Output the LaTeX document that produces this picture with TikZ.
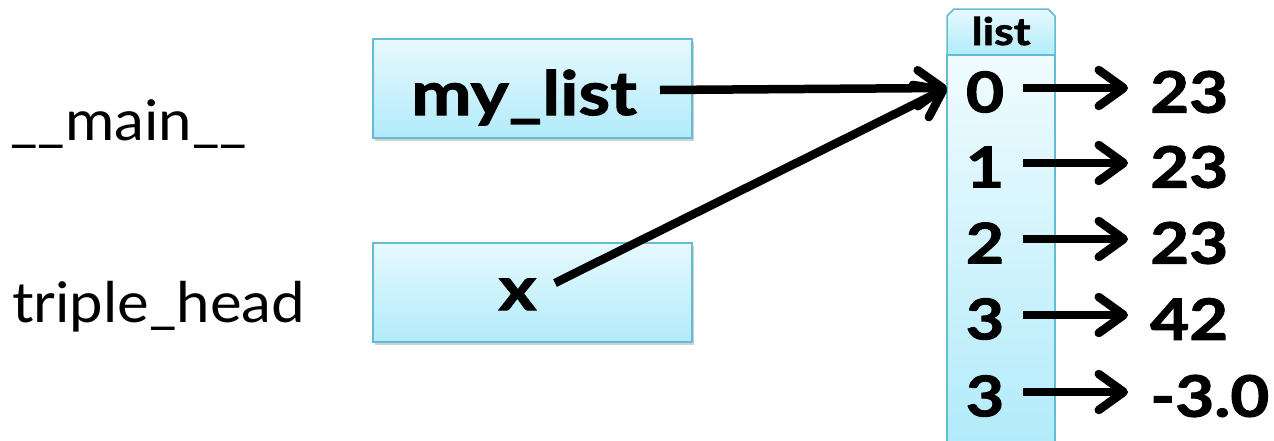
\documentclass[tikz,border=0pt]{standalone}
\usepackage{fontspec}
\setmainfont{Lato}[FakeStretch=1.07, BoldFeatures={FakeBold=1.8,FakeStretch=1.18}]
\usetikzlibrary{arrows.meta,shadows}
\definecolor{boxtop}{HTML}{E6F9FE}
\definecolor{boxbot}{HTML}{B2EBFA}
\definecolor{boxline}{HTML}{62BCD3}
\begin{document}
\begin{tikzpicture}[x=1pt,y=-1pt,
  box/.style={draw=boxline, line width=1.5pt, top color=boxtop, bottom color=boxbot,
    minimum width=319pt, minimum height=99pt, inner sep=0pt,
    drop shadow={opacity=0.3, shadow xshift=2pt, shadow yshift=-3pt, fill=black!60}},
  plain/.style={font=\fontsize{56}{60}\selectfont, inner sep=0pt},
  boldtxt/.style={font=\fontsize{61}{64}\selectfont\bfseries, inner sep=0pt},
  idx/.style={font=\fontsize{56}{60}\selectfont\bfseries, inner sep=0pt, minimum width=76pt},
  val/.style={font=\fontsize{57}{60}\selectfont\bfseries, inner sep=0pt, anchor=west},
  arr/.style={line width=8.5pt, -{Straight Barb[length=25pt,width=36pt,round]}},
]
\useasboundingbox (0,0) rectangle (1274,440);
% frame labels
\node[plain, anchor=base west] (mainlbl) at (10,140) {\_\_main\_\_};
\node[plain, anchor=base west] (triplbl) at (12,322) {triple\_head};
% boxes
\node[box] (b1) at (532.5,88.5) {};
\node[box] (b2) at (532.5,292.5) {};
\node[boldtxt, anchor=base] (mytext) at (524,115) {my\_list};
\node[boldtxt, anchor=base] (xtext) at (517.5,310) {x};
% list column
\shade[top color=boxtop, bottom color=boxbot, draw=boxline, line width=1.5pt]
  (947,55) -- (947,16) -- (954,9) -- (1048,9) -- (1055,16) -- (1055,55) -- cycle;
\shade[top color=boxtop!60!white, bottom color=boxbot, draw=boxline, line width=1.5pt]
  (947,55) -- (947,446) -- (1055,446) -- (1055,55) -- cycle;
\node[font=\fontsize{38}{40}\selectfont\bfseries, inner sep=0pt, anchor=base] (lhead) at (1001,45) {list};
% indices and values
\foreach \i/\y/\lab/\v in {0/92/0/23, 1/167/1/23, 2/243/2/23, 3/319/3/42, 4/396/3/-3.0}{
  \node[idx] (i\i) at (985,\y) {\lab};
  \node[val] (v\i) at (1150,\y) {\v};
  \draw[arr] ([yshift=4pt]i\i.east) -- ([xshift=-22pt,yshift=4pt]v\i.west);
}
% references
\coordinate (mystart) at (660,90);
\coordinate (xstart) at (555,283);
\coordinate (tip) at (947,88);
\draw[arr] (mystart) -- (tip);
\draw[arr] (xstart) -- (tip);
\end{tikzpicture}
\end{document}
